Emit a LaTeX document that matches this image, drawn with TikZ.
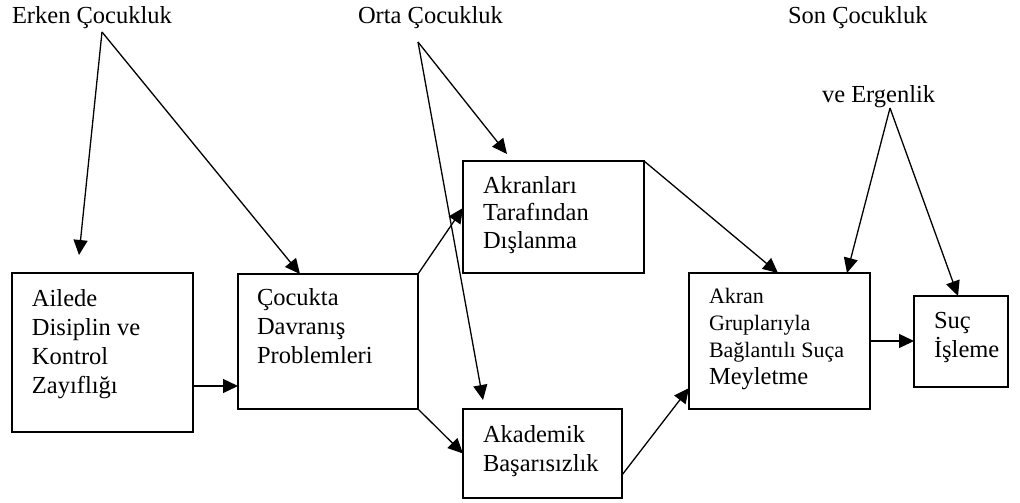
\documentclass[tikz,border=0pt]{standalone}
\usepackage{fontspec}
\setmainfont{Liberation Serif}
\usetikzlibrary{arrows.meta}
\begin{document}
\begin{tikzpicture}[x=0.5pt,y=-0.5pt,
  box/.style={draw,line width=0.7pt,inner sep=0pt,outer sep=0pt},
  lbl/.style={inner sep=0pt,outer sep=0pt,anchor=base west,align=left,font=\fontsize{12.25}{14.5}\selectfont},
  conn/.style={line width=0.65pt,-{Triangle[length=7.5pt,width=7pt]}}]
\useasboundingbox (0,0) rectangle (1020,502);
% boxes
\node[box,minimum width=90.5pt,minimum height=79.5pt] (b1) at (102.5,352.5) {};
\node[box,minimum width=90pt,minimum height=67.5pt] (b2) at (328,341.5) {};
\node[box,minimum width=90.5pt,minimum height=56pt] (b3) at (553.5,217) {};
\node[box,minimum width=79.5pt,minimum height=44.5pt] (b4) at (542.5,453.5) {};
\node[box,minimum width=90.5pt,minimum height=68pt] (b5) at (779.5,341) {};
\node[box,minimum width=47pt,minimum height=45.5pt] (b6) at (961,341.5) {};
% labels (anchored at the baseline of the last line)
\node[lbl] (t1) at (12,24) {Erken Çocukluk};
\node[lbl] (t2) at (358,24) {Orta Çocukluk};
\node[lbl] (t3) at (788,24) {Son Çocukluk};
\node[lbl] (t4) at (822,103) {ve Ergenlik};
\node[lbl] (x1) at (32,393) {Ailede\\Disiplin ve\\Kontrol\\Zayıflığı};
\node[lbl] (x2) at (257,363) {Çocukta\\Davranış\\Problemleri};
\node[lbl,font=\fontsize{12.25}{13.75}\selectfont] (x3) at (483,248) {Akranları\\Tarafından\\Dışlanma};
\node[lbl] (x4) at (483,471) {Akademik\\Başarısızlık};
\node[lbl,font=\fontsize{11}{13.5}\selectfont] (x5) at (709,384) {Akran\\Gruplarıyla\\Bağlantılı Suça\\\fontsize{12.25}{13.5}\selectfont Meyletme};
\node[lbl] (x6) at (934,357) {Suç\\İşleme};
% free ends
\coordinate (e) at (102,32);
\coordinate (ea) at (79,255);
\coordinate (o) at (418,42);
\coordinate (oa) at (507,154);
\coordinate (ob) at (483,400);
\coordinate (v) at (890,108);
% connectors
\draw[conn] (e) -- (ea);
\draw[conn] (e) -- ([xshift=31pt]b2.north west);
\draw[conn] (o) -- (oa);
\draw[conn] (o) -- (ob);
\draw[conn] (b2.north east) -- ([yshift=4.5pt]b3.west);
\draw[conn] (b2.south east) -- (b4.west);
\draw[conn] ([yshift=-16.75pt]b1.east) -- ([yshift=-16.75pt]b1.east -| b2.west);
\draw[conn] (b3.north east) -- ([xshift=44.5pt]b5.north west);
\draw[conn] ([yshift=-10.75pt]b4.east) -- ([yshift=-23.5pt]b5.west);
\draw[conn] (v) -- ([xshift=79pt]b5.north west);
\draw[conn] (v) -- ([xshift=-1.5pt]b6.north);
\draw[conn] (b5.east) -- (b5.east -| b6.west);
\end{tikzpicture}
\end{document}
